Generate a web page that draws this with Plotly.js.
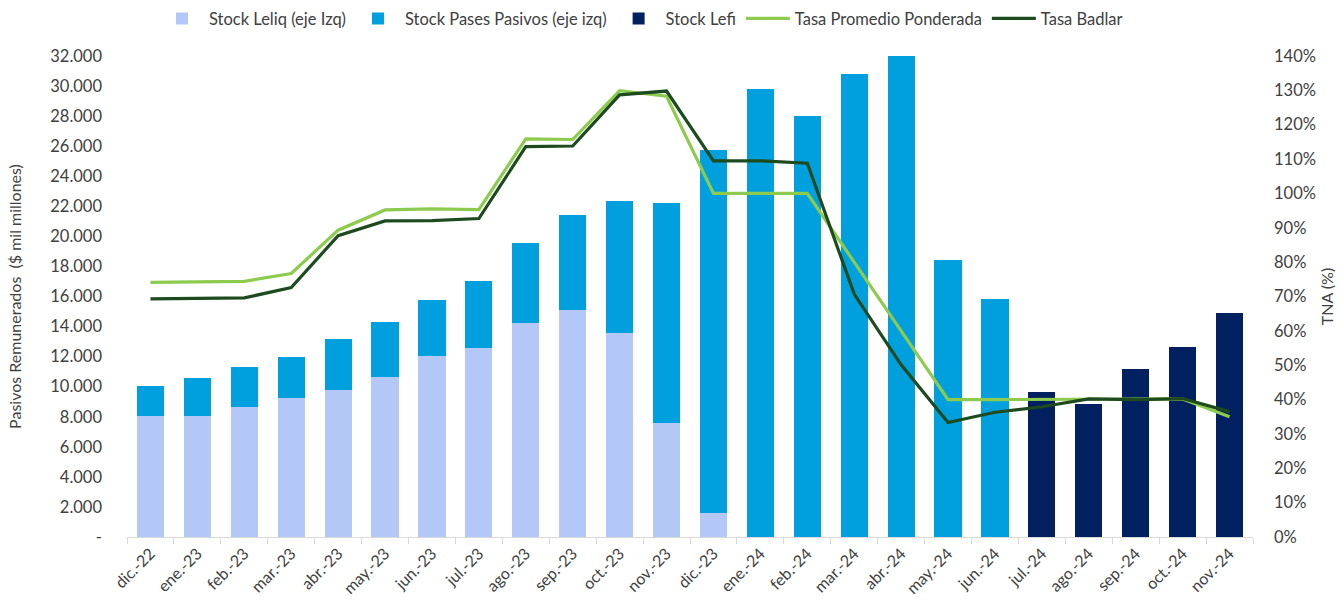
<!DOCTYPE html>
<html>
<head>
<meta charset="utf-8">
<script src="https://cdn.plot.ly/plotly-3.0.1.min.js"></script>
<style>html,body{margin:0;padding:0;background:#fff;}#chart{width:1342px;height:603px;}</style>
</head>
<body>
<div id="chart"></div>
<script>
const months = ["dic.-22","ene.-23","feb.-23","mar.-23","abr.-23","may.-23","jun.-23","jul.-23","ago.-23","sep.-23","oct.-23","nov.-23","dic.-23","ene.-24","feb.-24","mar.-24","abr.-24","may.-24","jun.-24","jul.-24","ago.-24","sep.-24","oct.-24","nov.-24"];
const stockLeliq = [8050,8050,8670,9270,9750,10640,12060,12590,14250,15100,13550,7560,1620,null,null,null,null,null,null,null,null,null,null,null];
const stockPases = [1990,2530,2620,2720,3440,3660,3720,4440,5320,6320,8800,14630,24120,29820,28000,30780,31980,18450,15850,null,null,null,null,null];
const stockLefi = [null,null,null,null,null,null,null,null,null,null,null,null,null,null,null,null,null,null,null,9650,8850,11170,12660,14920];
const tasaPromedio = [0.741,0.743,0.744,0.767,0.893,0.952,0.955,0.953,1.159,1.157,1.299,1.283,1.000,1.000,1.000,0.800,0.600,0.400,0.400,0.400,0.400,0.400,0.402,0.350];
const tasaBadlar = [0.693,0.694,0.696,0.726,0.877,0.920,0.921,0.927,1.136,1.138,1.287,1.298,1.095,1.095,1.088,0.707,0.501,0.333,0.363,0.379,0.402,0.400,0.403,0.365];
const leftTickVals = [0,2000,4000,6000,8000,10000,12000,14000,16000,18000,20000,22000,24000,26000,28000,30000,32000];
const leftTickText = ["-","2.000","4.000","6.000","8.000","10.000","12.000","14.000","16.000","18.000","20.000","22.000","24.000","26.000","28.000","30.000","32.000"];
const rightTickVals = [0,0.1,0.2,0.3,0.4,0.5,0.6,0.7,0.8,0.9,1.0,1.1,1.2,1.3,1.4];
const rightTickText = ["0%","10%","20%","30%","40%","50%","60%","70%","80%","90%","100%","110%","120%","130%","140%"];

const FONT = "Lato, 'Open Sans', sans-serif";
const traces = [
  {type:'bar', name:'Stock Leliq (eje Izq)', x:months, y:stockLeliq, marker:{color:'#B4C8F8'}},
  {type:'bar', name:'Stock Pases Pasivos (eje izq)', x:months, y:stockPases, marker:{color:'#00A0DF'}},
  {type:'bar', name:'Stock Lefi', x:months, y:stockLefi, marker:{color:'#002060'}},
  {type:'scatter', mode:'lines', name:'Tasa Promedio Ponderada', x:months, y:tasaPromedio, yaxis:'y2', line:{color:'#8DCB4E', width:3.2}},
  {type:'scatter', mode:'lines', name:'Tasa Badlar', x:months, y:tasaBadlar, yaxis:'y2', line:{color:'#1D4A1E', width:3.2}}
];
const layout = {
  width:1342, height:603,
  margin:{l:127, r:89, t:56, b:66},
  paper_bgcolor:'#fff', plot_bgcolor:'#fff',
  font:{family:FONT, color:'#404040', size:15},
  barmode:'stack', bargap:0.42,
  showlegend:true,
  legend:{orientation:'h', x:0.478, xanchor:'center', xref:'container', y:0.998, yanchor:'top', yref:'container', font:{size:16.5, color:'#404040'}, traceorder:'normal', itemwidth:44, tracegroupgap:0},
  xaxis:{type:'category', tickangle:-45, showline:true, linecolor:'#d9d9d9', linewidth:1, ticks:'outside', tickson:'boundaries', ticklen:6, tickcolor:'#d9d9d9', showgrid:false, tickfont:{size:16, color:'#404040'}, range:[-0.5,23.5]},
  yaxis:{range:[0,32000], tickvals:leftTickVals, ticktext:leftTickText, showgrid:false, zeroline:false, showline:false, ticks:'', tickfont:{size:16.5, color:'#404040'}, ticklabelstandoff:24,
    title:{text:'Pasivos Remunerados  ($ mil millones)', font:{size:16, color:'#404040'}, standoff:24}},
  yaxis2:{range:[0,1.4], overlaying:'y', side:'right', tickvals:rightTickVals, ticktext:rightTickText, showgrid:false, zeroline:false, showline:false, ticks:'', tickfont:{size:16.5, color:'#404040'}, ticklabelstandoff:20,
    title:{text:'TNA (%)', font:{size:16, color:'#404040'}, standoff:6}}
};
Plotly.newPlot('chart', traces, layout, {displayModeBar:false, staticPlot:true});
</script>
</body>
</html>
